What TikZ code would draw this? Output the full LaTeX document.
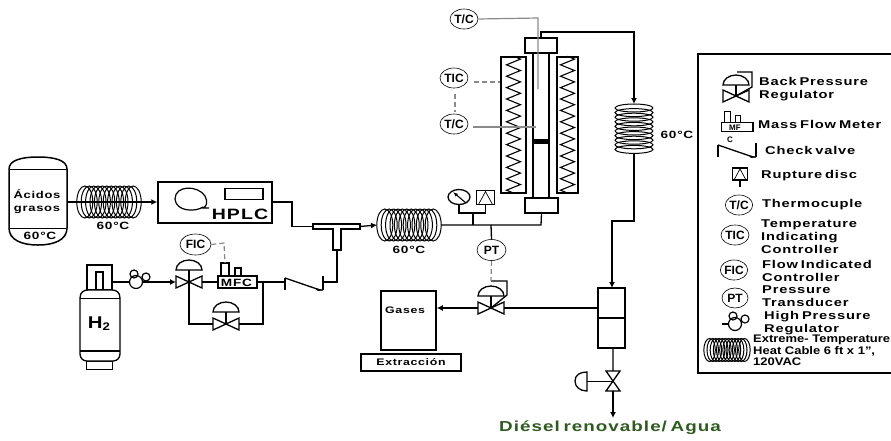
\documentclass[tikz,border=0pt]{standalone}
\usepackage{fontspec}
\setmainfont{Liberation Sans}
\newfontfamily\widefont[FakeStretch=1.3,LetterSpace=7,WordSpace=.6]{Liberation Sans}
\newfontfamily\cablefont[FakeStretch=1.18]{Liberation Sans}
\usetikzlibrary{arrows.meta,shapes.geometric,decorations.pathmorphing}
\definecolor{signal}{HTML}{8A8A8A}
\definecolor{dieselgreen}{HTML}{2F5A20}
\tikzset{
	pipe/.style={line width=1.3pt,line join=miter},
	flow/.style={pipe,-{Latex[length=6pt,width=6pt]}},
	sensor/.style={line width=1.2pt,signal},
	sensordash/.style={sensor,dash pattern=on 5pt off 3pt},
	unitbox/.style={rectangle,draw,line width=1.5pt,inner sep=0pt},
	instrument/.style={ellipse,draw,line width=.6pt,minimum width=28pt,minimum height=20pt,inner sep=0pt,font=\bfseries\fontsize{12}{12}\selectfont},
	label/.style={font=\widefont\bfseries\fontsize{10.5}{12}\selectfont,inner sep=0pt},
	legendtext/.style={label,anchor=west,font=\widefont\bfseries\fontsize{11.3}{13}\selectfont},
	pics/bowtie/.style={code={
		\draw[pipe] (-13,-6) -- (13,6) -- (13,-6) -- (-13,6) -- cycle;
		\coordinate (-w) at (-13,0);
		\coordinate (-e) at (13,0);
		\coordinate (-c) at (0,0);
	}},
	pics/dome/.style={code={
		\draw[pipe] (-13,0) arc (180:360:13 and 10) -- cycle;
		\coordinate (-s) at (0,0);
	}},
	pics/hcoil/.style={code={
		\foreach \k in {0,4.4,...,48.5}
			\draw[line width=1pt] (-24.2+\k,0) ellipse (8 and 16);
		\coordinate (-w) at (-32,0);
		\coordinate (-e) at (32,0);
	}},
	pics/vcoil/.style={code={
		\foreach \k in {0,4.6,...,42}
			\draw[line width=1pt] (0,-21+\k) ellipse (19 and 4);
		\coordinate (-n) at (0,-25);
		\coordinate (-s) at (0,25);
	}},
	pics/regulator/.style={code={
		\draw[line width=1.2pt] (0,0) circle (6.5);
		\draw[line width=1.2pt] (-2,-8) circle (4);
		\draw[line width=1.2pt] (10,-5) circle (4);
		\coordinate (-w) at (-6.5,0);
		\coordinate (-e) at (6.5,0);
	}},
	pics/checkvalve/.style={code={
		\draw[pipe] (0,-4) -- (0,8);
		\draw[pipe] (0,-4) -- (35,8) -- (38,8);
		\draw[pipe] (38,-6) -- (38,8);
		\fill (38,8) -- (30,6) -- (33,9) -- cycle;
		\coordinate (-w) at (0,0);
		\coordinate (-e) at (38,0);
	}},
	pics/massflow/.style={code={
		\draw[pipe] (-19,-6) rectangle (20,6);
		\draw[pipe] (-16,-6) -- (-16,-19) -- (-8,-19) -- (-8,-6);
		\draw[pipe] (-2,-6) -- (-2,-14) -- (4,-14) -- (4,-6);
		\coordinate (-w) at (-19,0);
		\coordinate (-e) at (20,0);
		\coordinate (-n) at (-12,-19);
	}},
	pics/rupture/.style={code={
		\draw[pipe] (-9,-7) rectangle (9,7);
		\draw[line width=.7pt] (-7,7) -- (0,-6) -- (7,7);
		\coordinate (-s) at (0,7);
	}}
}
\begin{document}
\begin{tikzpicture}[x=1pt,y=-1pt]
	\useasboundingbox (0,0) rectangle (891,440);

	\node [minimum width=59pt,minimum height=88pt,inner sep=0pt] (tank) at (38,201) {};
	\draw[line width=1.5pt] (9,169) .. controls (9,160) and (22,157) .. (38,157) .. controls (54,157) and (67,160) .. (67,169) -- (67,228) .. controls (67,240) and (54,245) .. (38,245) .. controls (22,245) and (9,240) .. (9,228) -- cycle;
	\draw[line width=1pt] (9,169) -- (67,169) (9,228) -- (67,228);
	\node [label,align=center,font=\widefont\bfseries\fontsize{10}{13}\selectfont] (acidos) at (37,202) {Ácidos\\grasos};
	\node [label] (tanktemp) at (40,236) {60°C};
	\pic (coilA) at (109,202) {hcoil};
	\node [label] (tempA) at (113,226) {60°C};
	\node [unitbox,minimum width=114pt,minimum height=41pt] (hplc) at (215,202.5) {};
	\node [rectangle,draw,line width=1.2pt,minimum width=38pt,minimum height=11pt,inner sep=0pt] (display) at (244,194) {};
	\draw[line width=1.2pt] (203,207) .. controls (196,212) and (176,212) .. (175,199) .. controls (175,185) and (198,185) .. (205,196) .. controls (208,202) and (207,206) .. (203,208) -- (209,208);
	\node [label,font=\widefont\bfseries\fontsize{15}{15}\selectfont] (hplctext) at (240,214) {HPLC};
	\draw[pipe] (tank.east |- coilA-w) -- (coilA-e);
	\draw[flow] (coilA-e) -- (hplc.west |- coilA-e);

	\coordinate (teeW) at (313,226.5);
	\coordinate (teeE) at (360,226.5);
	\coordinate (teeS) at (337,250);
	\draw[pipe] (313,224) -- (360,224) -- (360,229) -- (341,229) -- (341,250) -- (333,250) -- (333,229) -- (313,229) -- cycle;
	\draw[pipe] (hplc.east |- 0,202) -- (292,202) -- (292,226.5) -- (teeW);

	\node [rectangle,draw,pipe,minimum width=25pt,minimum height=25pt,inner sep=0pt] (neck) at (99.5,277.5) {};
	\node [rectangle,draw,pipe,minimum width=7pt,minimum height=18pt,inner sep=0pt] (neckin) at (99.5,281) {};
	\node [rectangle,draw,line width=1pt,minimum width=26pt,minimum height=8pt,inner sep=0pt] (foot) at (99,365) {};
	\draw[pipe,fill=white] (80,351) -- (80,298) .. controls (80,292) and (84,290) .. (88,290) -- (112,290) .. controls (116,290) and (120,292) .. (120,298) -- (120,354) .. controls (120,358) and (117,361) .. (113,361) -- (87,361) .. controls (83,361) and (80,358) .. (80,354) -- cycle;
	\draw[line width=1pt] (80,298) -- (120,298);
	\draw[pipe] (80,351) -- (120,351);
	\node [label,font=\bfseries\fontsize{17}{17}\selectfont] (htwo) at (99,324) {\addfontfeature{FakeStretch=1.2}H\raisebox{-2pt}{\fontsize{11}{11}\selectfont 2}};
	\pic (regA) at (136,282) {regulator};
	\pic (valveA) at (189,282) {bowtie};
	\pic at (189,270) {dome};
	\draw[pipe] (valveA-c) -- (189,270);
	\pic (mfc) at (237,282) {massflow};
	\node [label,font=\widefont\bfseries\fontsize{10.5}{10}\selectfont] (mfctext) at (236.5,282.5) {MFC};
	\node [instrument,minimum width=31pt,minimum height=21pt] (fic) at (195.5,244.5) {FIC};
	\draw[sensordash] (fic.east) -- (224,243) -- (mfc-n);
	\pic (check) at (285,282) {checkvalve};
	\pic (valveB) at (226,324) {bowtie};
	\pic at (226,312) {dome};
	\draw[pipe] (valveB-c) -- (226,312);
	\draw[pipe] (neck.east |- regA-w) -- (regA-w);
	\draw[flow] (regA-e) -- (valveA-w);
	\draw[pipe] (valveA-e) -- (mfc-w);
	\draw[pipe] (mfc-e) -- (check-w);
	\draw[pipe] (check-e) -- (337,282) -- (teeS);
	\draw[pipe] (valveA-c) -- (189,324) -- (valveB-w);
	\draw[pipe] (valveB-e) -- (263,324) -- (263,282);

	\pic (coilB) at (409,225) {hcoil};
	\node [label] (tempB) at (409,250) {60°C};
	\draw[flow] (teeE) -- (coilB-w);
	\node [unitbox,minimum width=33pt,minimum height=15pt] (flangeB) at (541.5,205.5) {};
	\node [unitbox,minimum width=32pt,minimum height=15pt] (flangeT) at (541,45.5) {};
	\node [unitbox,minimum width=16pt,minimum height=145pt] (tube) at (541,125.5) {};
	\node [rectangle,fill,minimum width=16pt,minimum height=5pt,inner sep=0pt] (bed) at (541,141.5) {};
	\node [unitbox,minimum width=25pt,minimum height=136pt] (heatL) at (513.5,125) {};
	\node [unitbox,minimum width=21pt,minimum height=136pt] (heatR) at (567.5,125) {};
	\draw[line width=1.1pt,decorate,decoration={zigzag,segment length=11.4pt,amplitude=7pt}] (heatL.north) -- (heatL.south);
	\draw[line width=1.1pt,decorate,decoration={zigzag,segment length=11.4pt,amplitude=7pt}] (heatR.north) -- (heatR.south);
	\draw[pipe] (coilB-e) -- (541,225) -- (flangeB.south);

	\node [instrument] (tcA) at (464,19) {T/C};
	\node [instrument] (tic) at (454,78) {TIC};
	\node [instrument] (tcB) at (454,124) {T/C};
	\coordinate (tcAend) at (538,89);
	\coordinate (tcBend) at (536,127);
	\draw[sensor] (tcA.east) -- (538,18) -- (tcAend);
	\draw[sensor] (tcB.east) ++(5,3) -- (tcBend);
	\draw[sensordash] (474,82) -- (heatL.west |- 0,82);
	\draw[sensordash] (tic.south) ++(1,6) -- ++(0,18);

	\node [ellipse,draw,line width=1.3pt,minimum width=22pt,minimum height=15pt,inner sep=0pt] (gauge) at (459,197) {};
	\draw[line width=1.1pt,-{Latex[length=5pt]}] (466,203) -- (453,192);
	\pic (disc) at (485.5,197.5) {rupture};
	\coordinate (tapA) at (473,225);
	\coordinate (tapB) at (491,225);
	\draw[pipe] (gauge.south) -- (459,213) -- (485.5,213) -- (disc-s);
	\draw[pipe] (473,213) -- (tapA);
	\node [instrument,minimum width=29pt,minimum height=21pt] (pt) at (491.5,250) {PT};
	\draw[pipe] (tapB) -- (pt.north);

	\pic (valveC) at (491,308) {bowtie};
	\pic at (491,296) {dome};
	\draw[pipe] (valveC-c) -- (491,296);
	\draw[pipe] (491,281) -- (507,281) -- (507,295) -- (valveC-c);
	\draw[sensordash] (pt.south) -- (491,281);
	\node [unitbox,minimum width=55pt,minimum height=59pt] (gases) at (408.5,320.5) {};
	\node [label,anchor=west,font=\widefont\bfseries\fontsize{9.5}{10}\selectfont] (gasestext) at (385,310) {Gases};
	\node [unitbox,minimum width=100pt,minimum height=17pt,font=\widefont\bfseries\fontsize{9.5}{10}\selectfont] (extra) at (411,362.5) {Extracción};
	\draw[flow] (valveC-w) -- (gases.east |- valveC-w);

	\pic (coilC) at (634,129) {vcoil};
	\node [label] (tempC) at (677,135) {60°C};
	\draw[flow] (flangeT.north) -- (541,32) -- (634,32) -- (coilC-n);
	\node [unitbox,minimum width=27pt,minimum height=60pt] (sep) at (611.5,318) {};
	\draw[line width=1.1pt] (sep.west) -- (sep.east);
	\draw[flow] (coilC-s) -- (634,221) -- (612,221) -- (612,288);
	\draw[pipe] (valveC-e) -- (sep.west |- valveC-e);
	\coordinate (drainV) at (613,381);
	\coordinate (drainEnd) at (613,418);
	\draw[pipe] (sep.south -| drainV) -- (613,371) -- (606,371) -- (620,391) -- (606,391) -- (620,371) -- (613,371);
	\draw[pipe] (575,381) .. controls (575,375) and (580,372) .. (587,372) -- (587,391) .. controls (580,391) and (575,387) .. (575,381) -- cycle;
	\draw[line width=.8pt] (587,381) -- (drainV);
	\draw[flow] (613,391) -- (drainEnd);
	\node [label,anchor=west,text=dieselgreen,font=\widefont\bfseries\fontsize{14.5}{14}\selectfont] (diesel) at (499,428) {Diésel renovable/ Agua};

	\node [rectangle,draw,line width=1.5pt,minimum width=198pt,minimum height=319pt,inner sep=0pt] (legend) at (797,213.5) {};
	\pic (lgBack) at (736,96) {bowtie};
	\pic at (736,85) {dome};
	\draw[pipe] (lgBack-c) -- (736,85);
	\draw[pipe] (737,72) -- (752,72) -- (752,87) -- (lgBack-c);
	\node [legendtext,align=left] (txBack) at (759,89.5) {Back Pressure\\Regulator};
	\pic (lgMass) [scale=.8] at (737,127) {massflow};
	\node [label,font=\bfseries\fontsize{8}{8}\selectfont] (lgMf) at (735,128) {MF};
	\node [legendtext] (txMass) at (758,124) {Mass Flow Meter};
	\node [label,font=\bfseries\fontsize{8}{8}\selectfont] (lgC) at (730,140) {C};
	\pic at (718,149) {checkvalve};
	\node [legendtext] (txCheck) at (765,150) {Check valve};
	\pic (lgDisc) [scale=.85] at (740,174) {rupture};
	\draw[pipe] (lgDisc-s) -- +(0,7);
	\node [legendtext] (txDisc) at (761,176) {Rupture disc};
	\node [instrument,minimum width=24pt] (lgTc) at (739,205) {T/C};
	\node [legendtext] (txTc) at (762,205) {Thermocuple};
	\node [instrument] (lgTic) at (735,235) {TIC};
	\node [legendtext,align=left] (txTic) at (761,237) {Temperature\\Indicating\\Controller};
	\node [instrument,minimum width=24pt] (lgFic) at (734,270) {FIC};
	\node [legendtext,align=left] (txFic) at (762,270.5) {Flow Indicated\\Controller};
	\node [instrument,minimum width=26pt] (lgPt) at (735,298) {PT};
	\node [legendtext,align=left] (txPt) at (762,296.5) {Pressure\\Transducer};
	\pic (lgReg) at (735,324) {regulator};
	\coordinate (lgRegEnd) at (722,324);
	\draw[pipe] (lgRegEnd) -- (lgReg-w);
	\node [legendtext,align=left] (txReg) at (764,323.5) {High Pressure\\Regulator};
	\pic [scale=.72] at (727,350) {hcoil};
	\node [label,anchor=west,align=left,font=\cablefont\bfseries\fontsize{11}{11.5}\selectfont] (txCable) at (753,350.5) {Extreme- Temperature\\Heat Cable 6 ft x 1”,\\120VAC};
\end{tikzpicture}
\end{document}
